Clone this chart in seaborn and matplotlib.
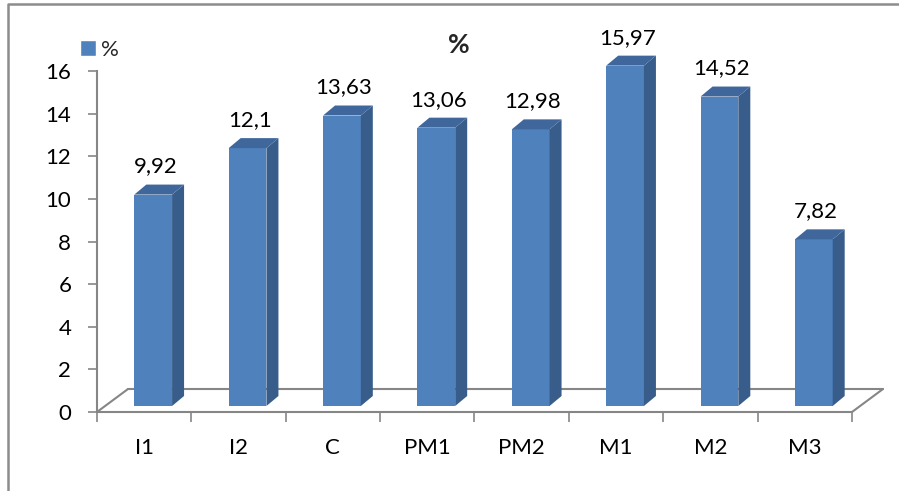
import numpy as np
import pandas as pd
import matplotlib
matplotlib.use("Agg")
import matplotlib.pyplot as plt
import seaborn as sns
from matplotlib.transforms import ScaledTranslation
from matplotlib.patches import Polygon, Patch
from matplotlib.lines import Line2D

categories = ["I1", "I2", "C", "PM1", "PM2", "M1", "M2", "M3"]
values = [9.92, 12.1, 13.63, 13.06, 12.98, 15.97, 14.52, 7.82]
yticks = [0, 2, 4, 6, 8, 10, 12, 14, 16]
series_name = "%"
title = "%"

FRONT = "#4F81BD"
SIDE = "#385D8A"
TOP = "#3F679C"
GREY = "#868686"

sns.set_theme(style="white")
plt.rcParams['font.family'] = ['Lato', 'DejaVu Sans']

W, H = 899, 491
fig = plt.figure(figsize=(W / 100, H / 100), dpi=100)
ax = fig.add_axes([97 / W, 1 - 412 / H, 755 / W, 341 / H])

df = pd.DataFrame({"cat": categories, "val": values})
sns.barplot(data=df, x="cat", y="val", color=FRONT, width=0.40, ax=ax,
            saturation=1, zorder=3, errorbar=None)
ax.set_xlim(-0.5, len(categories) - 0.5)
ax.set_ylim(0, 16)
ax.set_xlabel("")
ax.set_ylabel("")


def px(dx, dy):
    return ScaledTranslation(dx / 100, dy / 100, fig.dpi_scale_trans)


p0 = ax.transData.transform((0, 0))
p1 = ax.transData.transform((1, 1))
ppx, ppy = p1 - p0

# floor
n = len(categories)
back = ax.transData + px(31, 23)
ax.plot([-0.5, n - 0.5], [0, 0], color=GREY, lw=1.5, clip_on=False, zorder=1)
ax.plot([-0.5, n - 0.5], [0, 0], color=GREY, lw=1.5, clip_on=False, zorder=1, transform=back)
for xe in (-0.5, n - 0.5):
    ax.plot([xe, xe + 31 / ppx], [0, 23 / ppy], color=GREY, lw=1.5, clip_on=False, zorder=1)

# 3D bars
bar_t = ax.transData + px(9, 6)
ddx, ddy = 12 / ppx, 10 / ppy
for p in list(ax.patches):
    x0, w, h = p.get_x(), p.get_width(), p.get_height()
    p.set_transform(bar_t)
    p.set_edgecolor("none")
    side = Polygon([(x0 + w, 0), (x0 + w + ddx, ddy), (x0 + w + ddx, h + ddy), (x0 + w, h)],
                   closed=True, facecolor=SIDE, edgecolor="none", transform=bar_t, zorder=3, clip_on=False)
    top = Polygon([(x0, h), (x0 + ddx, h + ddy), (x0 + w + ddx, h + ddy), (x0 + w, h)],
                  closed=True, facecolor=TOP, edgecolor="none", transform=bar_t, zorder=3, clip_on=False)
    ax.add_patch(side)
    ax.add_patch(top)
    p.set_clip_on(False)

# value labels
for i, v in enumerate(values):
    ax.annotate(f"{v:g}".replace(".", ","), (i, v), xytext=(8, 24.5), textcoords="offset points",
                ha="center", va="center", fontsize=16, color="black", annotation_clip=False)

# axes styling
for s in ("top", "right"):
    ax.spines[s].set_visible(False)
ax.spines["left"].set_color(GREY)
ax.spines["left"].set_linewidth(1.5)
ax.spines["bottom"].set_visible(False)
ax.set_yticks(yticks)
ax.set_yticklabels([str(t) for t in yticks])
ax.tick_params(axis="y", length=6.5, width=1.2, color=GREY, pad=12, labelsize=16, labelcolor="black", left=True)
ax.set_xticks(range(n))
ax.set_xticklabels(categories)
ax.set_xticks(np.arange(-0.5, n, 1.0), minor=True)
ax.tick_params(axis="x", which="major", length=0, pad=19, labelsize=16, labelcolor="black")
ax.tick_params(axis="x", which="minor", length=7, width=1.2, color=GREY, bottom=True)
ax.grid(False)

# title and legend
fig.text(459 / W, 1 - 45 / H, title, ha="center", va="center", fontsize=19, fontweight="bold")
fig.legend(handles=[Patch(facecolor=FRONT, label=series_name)], loc="center left",
           bbox_to_anchor=(80 / W, 1 - 50 / H), frameon=False, handlelength=0.7, handleheight=0.7,
           handletextpad=0.25, borderpad=0, borderaxespad=0, fontsize=16)

# chart border
fig.add_artist(Line2D([8 / W, 8 / W, 1.0], [0, 1 - 4 / H, 1 - 4 / H], transform=fig.transFigure,
                      color="#8C8C8C", lw=1.8))

fig.savefig("out.png", dpi=100)
